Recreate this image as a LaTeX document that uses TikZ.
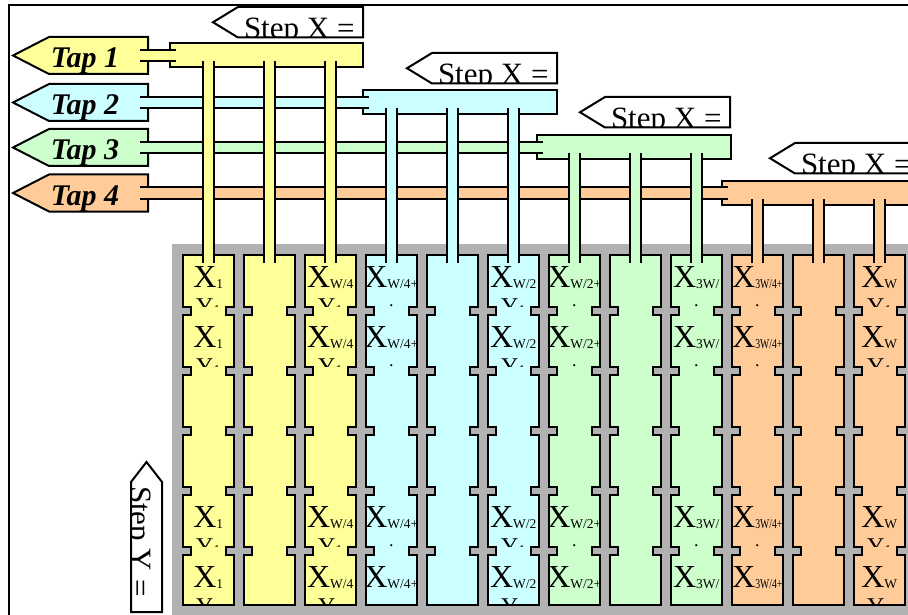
\documentclass[tikz,border=0pt]{standalone}
\usepackage{fontspec}
\setmainfont{Liberation Serif}
\usepackage{graphicx}
\definecolor{cy}{HTML}{FFFF99}
\definecolor{cb}{HTML}{CCFFFF}
\definecolor{cg}{HTML}{CCFFCC}
\definecolor{co}{HTML}{FFCC99}
\definecolor{gbg}{HTML}{B2B2B2}
\tikzset{
  tapfont/.style={font=\fontsize{30}{30}\selectfont\bfseries\itshape},
  stepfont/.style={font=\fontsize{31}{31}\selectfont},
  bigx/.style={font=\fontsize{32}{32}\selectfont, inner sep=0pt, anchor=base},
  midy/.style={font=\fontsize{24}{24}\selectfont, inner sep=0pt, anchor=base},
}
\newcommand\cellcol[2]{%
  \draw[fill=#2] (#1,255) -- (#1+51.5,255)
    foreach \nn in {310.5,370.5,430.5,490.5,550.5}{ -- (#1+51.5,\nn-4) -- (#1+43.5,\nn-4) -- (#1+43.5,\nn+4) -- (#1+51.5,\nn+4) }
    -- (#1+51.5,604.5) -- (#1,604.5)
    foreach \nn in {550.5,490.5,430.5,370.5,310.5}{ -- (#1,\nn+4) -- (#1+8,\nn+4) -- (#1+8,\nn-4) -- (#1,\nn-4) }
    -- cycle;}
\newcommand\cx[1]{X{\fontsize{13.5}{13.5}\selectfont\raisebox{-1pt}{#1}}}
\newcommand\secY{\node[midy] (y\kk-\rr) at (\cL+25.75,314+60*\rr) {Y{\fontsize{13.5}{13.5}\selectfont 1}};}
\newcommand\secdot{\node[font=\fontsize{18}{18}\selectfont,inner sep=0pt,anchor=base] (d\kk-\rr) at (\cL+25.75,306.5+60*\rr) {.};}
\newcommand\celltext[3]{%
  \foreach \rr in {0,1,4,5}{
    \def\kk{#1}
    \pgfmathsetmacro\cL{182.5+61*(#1-1)}
    \pgfmathsetmacro\cB{min(306.5+60*\rr,603.5)}
    \begin{scope}
      \clip (\cL+1,256+60*\rr) rectangle (\cL+50.5,\cB);
      \node[bigx] (x#1-\rr) at (\cL+25.75,287+60*\rr) {\cx{#2}};
      #3
    \end{scope}
  }}
\begin{document}
\begin{tikzpicture}[x=1pt,y=-1pt,line width=2pt,line join=miter]
\useasboundingbox (0,0) rectangle (908,615);
\clip (0,0) rectangle (908,615);
% frame
\draw (8.5,5) rectangle (1000,700);
% grey field
\fill[gbg] (172,244) rectangle (1000,700);
% cell columns
\foreach \kk/\col in {1/cy,2/cy,3/cy,4/cb,5/cb,6/cb,7/cg,8/cg,9/cg,10/co,11/co,12/co}{
  \pgfmathsetmacro\cL{182.5+61*(\kk-1)}
  \cellcol{\cL}{\col}
}
% tap arrows
\foreach \col/\yc/\tn in {cy/55.5/1,cb/102.5/2,cg/147.5/3,co/193/4}{
  \draw[fill=\col] (148,\yc-18.5) -- (49,\yc-18.5) -- (13,\yc) -- (49,\yc+18.5) -- (148,\yc+18.5) -- cycle;
  \node[tapfont,anchor=base,inner sep=0pt] (tap\tn) at (85,\yc+12.5) {Tap \tn};
}
% buses and horizontal pipes
\foreach \col/\yc/\xa/\xb/\tn in {cy/55.5/170/363/1, cb/102.5/363/557/2, cg/147.5/537/731/3, co/193/722/960/4}{
  \draw[fill=\col] (\xa,\yc-12) rectangle (\xb,\yc+12);
  \coordinate (bus\tn) at (\xa,\yc);
  \fill[\col] (140,\yc-5.5) rectangle (\xa+1.5,\yc+5.5);
  \draw (140,\yc-5.5) -- (\xa+6,\yc-5.5) (140,\yc+5.5) -- (\xa+6,\yc+5.5);
}
% vertical pipes
\foreach \kk/\col/\yc in {1/cy/55.5,2/cy/55.5,3/cy/55.5,4/cb/102.5,5/cb/102.5,6/cb/102.5,7/cg/147.5,8/cg/147.5,9/cg/147.5,10/co/193,11/co/193,12/co/193}{
  \pgfmathsetmacro\xc{208.25+61*(\kk-1)}
  \fill[\col] (\xc-5.5,\yc+10.5) rectangle (\xc+5.5,256.5);
  \draw (\xc-5.5,\yc+6) -- (\xc-5.5,263) (\xc+5.5,\yc+6) -- (\xc+5.5,263);
}
% Step X labels
\foreach \xa/\tp/\tn in {213/7/1, 407/53/2, 580/97/3, 770/143/4}{
  \begin{scope}
    \path[clip] (\xa,\tp+15.25) -- (\xa+25,\tp) -- (\xa+150,\tp) -- (\xa+150,\tp+30.5) -- (\xa+25,\tp+30.5) -- cycle;
    \node[stepfont,anchor=base west,inner sep=0pt] (stepx\tn) at (\xa+30,\tp+31.5) {Step X =};
  \end{scope}
  \draw (\xa,\tp+15.25) -- (\xa+25,\tp) -- (\xa+150,\tp) -- (\xa+150,\tp+30.5) -- (\xa+25,\tp+30.5) -- cycle;
}
% Step Y label
\begin{scope}
  \path[clip] (146.5,462) -- (162,482) -- (162,612) -- (131,612) -- (131,482) -- cycle;
  \node[stepfont,anchor=base west,inner sep=0pt,rotate=-90] (stepy) at (130,485) {Step Y =};
\end{scope}
\draw (146.5,462) -- (162,482) -- (162,612) -- (131,612) -- (131,482) -- cycle;
% cell texts
\celltext{1}{1}{\secY}
\celltext{3}{W/4}{\secY}
\celltext{4}{W/4+}{\secdot}
\celltext{6}{W/2}{\secY}
\celltext{7}{W/2+}{\secdot}
\celltext{9}{3W/}{\secdot}
\celltext{10}{\scalebox{0.72}[1]{3W/4+}}{\secdot}
\celltext{12}{W}{\secY}
\end{tikzpicture}
\end{document}
